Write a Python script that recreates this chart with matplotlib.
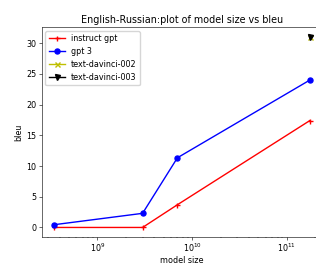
import matplotlib
matplotlib.use("Agg")
import matplotlib.pyplot as plt

model_size = [350e6, 3e9, 7e9, 175e9]
instruct_gpt = [0.0, 0.0, 3.7, 17.4]
gpt3 = [0.45, 2.3, 11.35, 24.0]
davinci002_size = [175e9]
davinci002 = [31.1]
davinci003_size = [175e9]
davinci003 = [31.1]

s = 0.52
f = 0.575
plt.rcParams.update({
    'font.size': 10 * f,
    'axes.linewidth': 0.8 * s,
    'xtick.major.width': 0.8 * s, 'ytick.major.width': 0.8 * s,
    'xtick.minor.width': 0.6 * s, 'ytick.minor.width': 0.6 * s,
    'xtick.major.size': 3.5 * s, 'ytick.major.size': 3.5 * s,
    'xtick.minor.size': 2 * s, 'ytick.minor.size': 2 * s,
    'xtick.major.pad': 3.5 * s, 'ytick.major.pad': 3.5 * s,
    'lines.linewidth': 1.0,
    'lines.markersize': 3.6,
    'legend.fontsize': 10 * f,
    'axes.titlesize': 12 * f,
    'axes.labelsize': 10 * f,
    'axes.titlepad': 6 * s,
    'axes.labelpad': 4 * s,
})

fig = plt.figure(figsize=(3.16, 2.64), dpi=100)
ax = fig.add_axes([41.5 / 316, 27 / 264, 281 / 316, 210 / 264])
ax.plot(model_size, instruct_gpt, 'r+-', label='instruct gpt')
ax.plot(model_size, gpt3, 'bo-', label='gpt 3')
ax.plot(davinci002_size, davinci002, 'yx-', label='text-davinci-002')
ax.plot(davinci003_size, davinci003, 'kv-', label='text-davinci-003')
ax.set_xscale('log')
ax.set_xlabel('model size', labelpad=1.0)
ax.set_ylabel('bleu')
ax.set_title('English-Russian:plot of model size vs bleu')
ax.legend(loc='upper left')
fig.savefig('out.png', dpi=100)
